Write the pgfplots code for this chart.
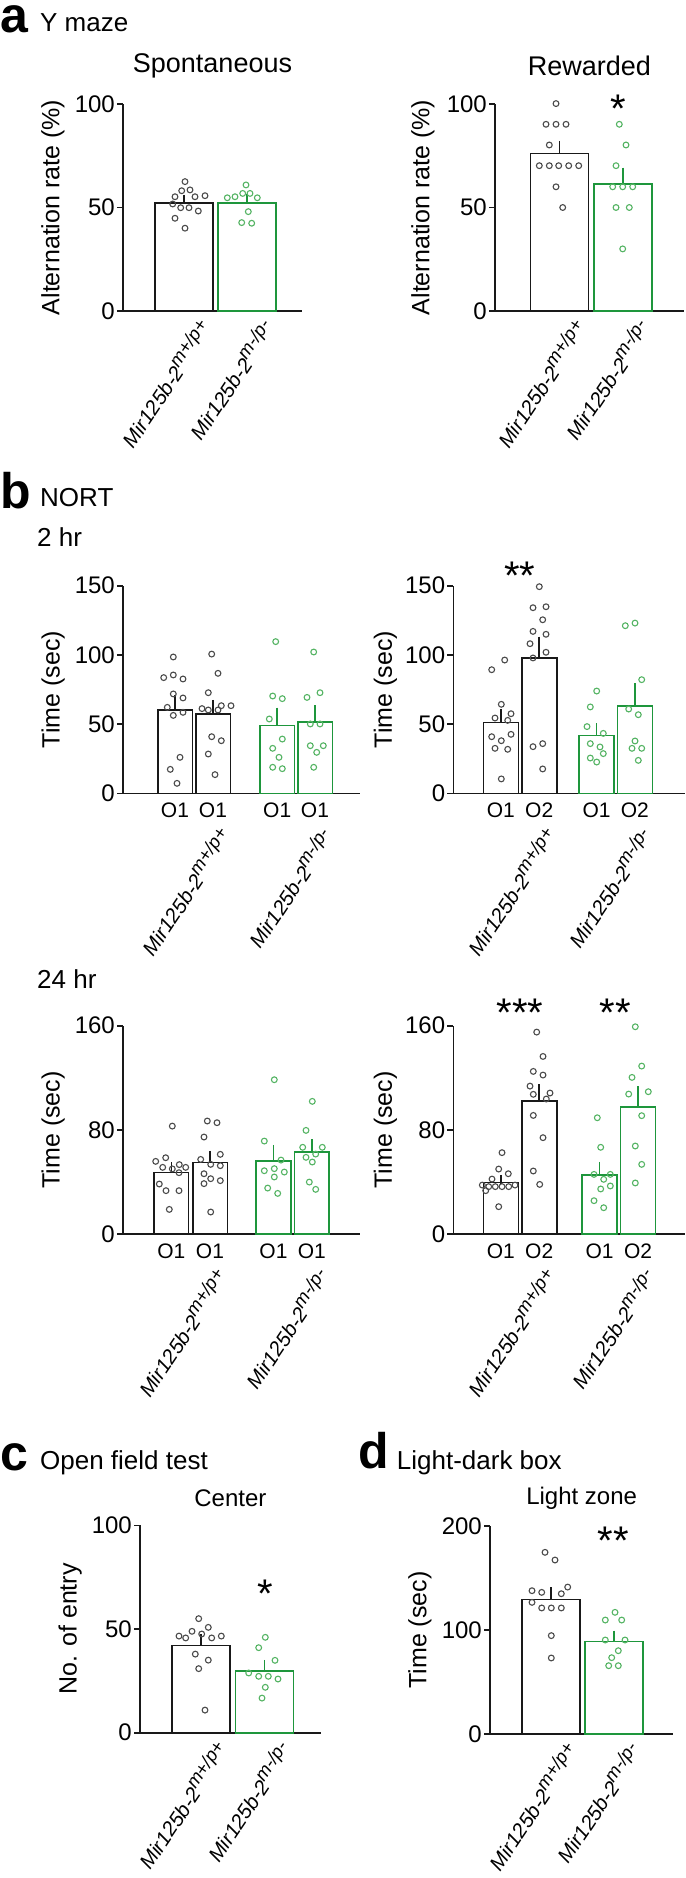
\documentclass[border=0pt]{standalone}
\usepackage{fontspec}
\setmainfont{Liberation Sans}
\usepackage{graphicx}
\usepackage{pgfplots}
\pgfplotsset{compat=1.18}

\definecolor{barblack}{RGB}{25,25,25}
\definecolor{dotgray}{RGB}{75,75,75}
\definecolor{bargreen}{RGB}{30,150,60}
\definecolor{dotgreen}{RGB}{85,180,100}

\newcommand{\fs}[1]{\fontsize{#1}{#1}\selectfont}
% rotated genotype labels
\newcommand{\wt}{\rotatebox{56}{\fs{20.5}\itshape Mir125b-2\raisebox{0.4em}{\fs{18.5}m+/p+}}}
\newcommand{\ko}{\rotatebox{56}{\fs{20.5}\itshape Mir125b-2\raisebox{0.4em}{\fs{18.5}m-/p-}}}

\pgfplotsset{
  panel/.style={
    scale only axis, clip=false, anchor=south west,
    axis x line*=bottom, axis y line*=left,
    axis line style={line width=1.6pt, draw=barblack},
    ymin=0, tick align=outside, major tick length=6pt,
    ytick style={line width=1.6pt, draw=barblack},
    xtick style={draw=none},
    /pgf/number format/assume math mode=true,
    yticklabel style={font=\fs{24}, inner sep=2pt},
    xticklabel style={font=\fs{21}},
    ylabel style={font=\fs{25}, anchor=center},
    title style={font=\fs{27}, at={(axis description cs:0.5,1)}, anchor=center},
  },
  genolabels/.style={xticklabel style={inner sep=0pt, anchor=north east, xshift=31pt, yshift=0pt}},
  genoextra/.style={extra x tick style={xticklabel style={inner sep=0pt, anchor=north east,
    xshift=41pt, yshift=-26pt}}},
  wtbar/.style={ybar, bar shift=0pt, bar width=#1, fill=white, draw=barblack, line width=1.6pt,
    error bars/.cd, y dir=plus, y explicit,
    error bar style={line width=1.6pt, draw=barblack},
    error mark options={line width=1.6pt, mark size=4.5pt, draw=barblack}},
  kobar/.style={ybar, bar shift=0pt, bar width=#1, fill=white, draw=bargreen, line width=1.6pt,
    error bars/.cd, y dir=plus, y explicit,
    error bar style={line width=1.6pt, draw=bargreen},
    error mark options={line width=1.6pt, mark size=4.5pt, draw=bargreen}},
  wtdot/.style={only marks, mark=o, mark size=2.9pt, mark options={draw=dotgray, line width=1.1pt}},
  kodot/.style={only marks, mark=o, mark size=2.9pt, mark options={draw=dotgreen, line width=1.1pt}},
}

\begin{document}
\begin{tikzpicture}
\path[use as bounding box] (0,0) rectangle (685pt,-1878pt);

% headers
\node[anchor=base west, inner sep=0, font=\fs{50}\bfseries] at (0pt,-33pt) {a};
\node[anchor=base west, inner sep=0, font=\fs{26}] at (40pt,-32pt) {Y maze};
\node[anchor=base west, inner sep=0, font=\fs{50}\bfseries] at (0pt,-508pt) {b};
\node[anchor=base west, inner sep=0, font=\fs{26}] at (40pt,-506pt) {NORT};
\node[anchor=base west, inner sep=0, font=\fs{26}] at (37pt,-546.7pt) {2 hr};
\node[anchor=base west, inner sep=0, font=\fs{26}] at (37pt,-988pt) {24 hr};
\node[anchor=base west, inner sep=0, font=\fs{50}\bfseries] at (0pt,-1470.7pt) {c};
\node[anchor=base west, inner sep=0, font=\fs{26}] at (40pt,-1469pt) {Open field test};
\node[anchor=base west, inner sep=0, font=\fs{50}\bfseries] at (358pt,-1468.3pt) {d};
\node[anchor=base west, inner sep=0, font=\fs{26}] at (396.7pt,-1469pt) {Light-dark box};

% ---- a: Spontaneous
\begin{axis}[panel, genolabels, at={(123pt,-311pt)}, width=179pt, height=207pt,
  xmin=123, xmax=302, ymax=100, ytick={0,50,100},
  xtick={184,247}, xticklabels={{\wt},{\ko}},
  ylabel={Alternation rate (\%)}, ylabel style={at={(axis description cs:-0.391,0.5)}},
  title={Spontaneous}, title style={yshift=32pt}]
\addplot[wtbar=58] coordinates {(184,52.3) +- (0,1.7)};
\addplot[kobar=58] coordinates {(247,52.3) +- (0,2.2)};
\addplot[wtdot] coordinates {(185,62.5) (181.7,58.1) (190,58.5) (175,55.2) (195,55.2) (205,55.7)
  (172.7,51.7) (180.7,49.9) (189,49.9) (198.3,48.3) (175,44.8) (185,40)};
\addplot[kodot] coordinates {(246,60.9) (227.3,54.7) (235,55.2) (242.7,56.8) (250,56.8)
  (257.3,54.7) (248.3,48) (241.7,42.7) (251.7,42.4)};
\end{axis}

% ---- a: Rewarded
\begin{axis}[panel, genolabels, at={(495pt,-311pt)}, width=189pt, height=207pt,
  xmin=495, xmax=684, ymax=100, ytick={0,50,100},
  xtick={559.5,623}, xticklabels={{\wt},{\ko}},
  ylabel={Alternation rate (\%)}, ylabel style={at={(axis description cs:-0.381,0.5)}},
  title={Rewarded}, title style={yshift=32pt}]
\addplot[wtbar=58] coordinates {(559.5,76) +- (0,4)};
\addplot[kobar=58] coordinates {(623,61.3) +- (0,5.8)};
\addplot[wtdot] coordinates {(556,100.2) (546,90.2) (556,90.2) (566,90.2) (549.3,80.2) (539.3,70.2)
  (549.3,70.2) (558.7,70.2) (568.7,70.2) (578.7,70.2) (556,60) (562.7,50)};
\addplot[kodot] coordinates {(619.3,90.2) (626,80.2) (616,70.2) (612.7,60) (622.7,60) (632.7,60)
  (616,50) (629.3,50) (622.7,30)};
\node[font=\fs{40}, anchor=base, inner sep=0] at ([yshift=-23pt]axis cs:618.3,102) {*};
\end{axis}

% ---- b: 2 hr, O1 O1
\begin{axis}[panel, genoextra, at={(123pt,-793.3pt)}, width=237pt, height=207.6pt,
  xmin=123, xmax=360, ymax=150, ytick={0,50,100,150},
  xtick={175,213,277.2,315}, xticklabels={O1,O1,O1,O1},
  extra x ticks={194,296}, extra x tick labels={{\wt},{\ko}},
  ylabel={Time (sec)}, ylabel style={at={(axis description cs:-0.295,0.5)}}]
\addplot[wtbar=34.6] coordinates {(175,60) +- (0,7.9) (213,57.3) +- (0,7)};
\addplot[kobar=34.6] coordinates {(277.2,48.9) +- (0,9.8) (315,51.5) +- (0,8.7)};
\addplot[wtdot] coordinates {(173.3,98.5) (163.7,83.6) (173.3,85.5) (183,82.6) (173.3,71.8) (183,68.9)
  (167.3,62.1) (183,58.5) (173.3,56.3) (180,26) (170.3,17.3) (177,7.2)};
\addplot[wtdot] coordinates {(211.7,100.6) (218,86.7) (208.3,72.7) (202,61.2) (208.3,60.2) (218,60.2)
  (221.3,63.3) (231,63.3) (211.7,40.9) (221.3,38) (208.3,28.4) (215,13.5)};
\addplot[kodot] coordinates {(275.7,109.6) (272.7,70.3) (282.3,68.4) (269.3,53.7) (282.3,39.2)
  (272.7,32.5) (279,26) (272.7,18.8) (282.3,17.8)};
\addplot[kodot] coordinates {(313.7,102.1) (307,69.3) (320,72.7) (310.3,50.1) (320,50.1)
  (310.3,34.4) (323.3,34.4) (316.7,29.6) (313.7,18.8)};
\end{axis}

% ---- b: 2 hr, O1 O2
\begin{axis}[panel, genoextra, at={(453.3pt,-793.3pt)}, width=231.7pt, height=207.6pt,
  xmin=453.3, xmax=685, ymax=150, ytick={0,50,100,150},
  xtick={500.8,539.2,596.5,634.8}, xticklabels={O1,O2,O1,O2},
  extra x ticks={520,615.7}, extra x tick labels={{\wt},{\ko}},
  ylabel={Time (sec)}, ylabel style={at={(axis description cs:-0.293,0.5)}}]
\addplot[wtbar=35] coordinates {(500.8,51.3) +- (0,6.5) (539.2,97.8) +- (0,12.2)};
\addplot[kobar=35] coordinates {(596.5,41.9) +- (0,5.3) (634.8,63.3) +- (0,12.8)};
\addplot[wtdot] coordinates {(504.7,96.3) (491.7,89.3) (501.3,64.3) (511,57.5) (495,54.4) (507.7,52.7)
  (491.7,40.9) (511,42.6) (501.3,38) (495,32.5) (507.7,31.8) (501.3,10.4)};
\addplot[wtdot] coordinates {(539.3,149.3) (533,134.1) (546,134.8) (542.7,125.4) (533,117) (546,114.9)
  (530,108.1) (546,101.9) (533,97.8) (533,33.7) (542.7,35.9) (542.7,17.6)};
\addplot[kodot] coordinates {(596.7,73.9) (590.3,62.4) (587,48.2) (603.3,43.3) (590.3,35.9)
  (600,33.5) (603.3,28.7) (590.3,25.5) (596.7,22.6)};
\addplot[kodot] coordinates {(625.3,121.1) (635,123) (641.7,82.1) (628.7,60.9) (638.3,56.8)
  (635,37.8) (632,32.5) (641.7,32.5) (638.3,23.8)};
\node[font=\fs{40}, anchor=base, inner sep=0] at ([yshift=-23pt]axis cs:520,163.7) {**};
\end{axis}

% ---- b: 24 hr, O1 O1
\begin{axis}[panel, genoextra, at={(123pt,-1234pt)}, width=237pt, height=208.3pt,
  xmin=123, xmax=360, ymax=160, ytick={0,80,160},
  xtick={171.3,210,273.5,311.8}, xticklabels={O1,O1,O1,O1},
  extra x ticks={190.7,292.7}, extra x tick labels={{\wt},{\ko}},
  ylabel={Time (sec)}, ylabel style={at={(axis description cs:-0.295,0.5)}}]
\addplot[wtbar=34.6] coordinates {(171.3,47.1) +- (0,4.6) (210,54.8) +- (0,5.6)};
\addplot[kobar=34.6] coordinates {(273.5,56.3) +- (0,8.7) (311.8,63) +- (0,6.4)};
\addplot[wtdot] coordinates {(172.3,82.9) (155.7,55.8) (165.7,58.6) (162.7,51.2) (179.3,53.3) (185.7,51.2)
  (172.3,50) (179,47.1) (159.3,38.4) (166,33.3) (179,33.3) (169.3,18.9)};
\addplot[wtdot] coordinates {(207.3,86.8) (217,85.5) (204,74.5) (220.3,61.2) (200.7,57.3) (210.7,53.5)
  (220.3,52.5) (204,46.3) (210.7,42.5) (220.3,41) (204,38.7) (210.7,16.9)};
\addplot[kodot] coordinates {(274.3,118.5) (264.3,71.4) (281,56.8) (264.3,48.6) (274.3,50.2)
  (284.3,47.6) (274.3,43.8) (267.7,35.3) (277.7,31.2)};
\addplot[kodot] coordinates {(312.3,101.9) (306,79.6) (302.7,66.6) (322.3,66.6) (315.7,61.4)
  (306,58.9) (312.3,55.3) (309.3,39.9) (315.7,34.3)};
\end{axis}

% ---- b: 24 hr, O1 O2
\begin{axis}[panel, genoextra, at={(453.3pt,-1234pt)}, width=231.7pt, height=208.3pt,
  xmin=453.3, xmax=685, ymax=160, ytick={0,80,160},
  xtick={500.8,539.2,599.5,638}, xticklabels={O1,O2,O1,O2},
  extra x ticks={520,618.8}, extra x tick labels={{\wt},{\ko}},
  ylabel={Time (sec)}, ylabel style={at={(axis description cs:-0.293,0.5)}}]
\addplot[wtbar=35] coordinates {(500.8,39.7) +- (0,2.3) (539.2,102.1) +- (0,9.3)};
\addplot[kobar=35] coordinates {(599.5,45.3) +- (0,6.7) (638,97.5) +- (0,12.6)};
\addplot[wtdot] coordinates {(502,62.5) (498.7,49.9) (508.3,46.3) (492,42.2) (482.3,37.6) (488.7,36.4)
  (495.3,36.4) (502,36.4) (508.7,36.4) (515,37.6) (485.7,33.3) (498.7,21)};
\addplot[wtdot] coordinates {(536.7,155.1) (543,136.4) (533.3,124.9) (543,122.1) (530,113.6) (533.3,107.3)
  (550,108.3) (546.3,103.7) (533.3,91.1) (543,74) (533.3,48.4) (539.7,38.1)};
\addplot[kodot] coordinates {(597.3,89.3) (600.7,66.6) (594,45.8) (610.3,45.8) (603.7,42)
  (610.3,36.9) (600.7,34.6) (594,25.6) (603.7,20.2)};
\addplot[kodot] coordinates {(635.3,159.2) (641.7,129) (632,120.3) (628.7,107.5) (648.3,109.3)
  (641.7,90.9) (635.3,67.6) (641.7,53.5) (635.3,39.2)};
\node[font=\fs{40}, anchor=base, inner sep=0] at ([yshift=-23pt]axis cs:520,177.2) {***};
\node[font=\fs{40}, anchor=base, inner sep=0] at ([yshift=-23pt]axis cs:615,177.2) {**};
\end{axis}

% ---- c: Open field, Center
\begin{axis}[panel, genolabels, at={(140pt,-1732.7pt)}, width=180.7pt, height=207.4pt,
  xmin=140, xmax=320.7, ymax=100, ytick={0,50,100},
  xtick={201,264.3}, xticklabels={{\wt},{\ko}},
  ylabel={No. of entry}, ylabel style={at={(axis description cs:-0.387,0.5)}},
  title={Center}, title style={yshift=21pt, font=\fs{24}}]
\addplot[wtbar=58] coordinates {(201,42) +- (0,3.3)};
\addplot[kobar=58] coordinates {(264.3,29.9) +- (0,3.1)};
\addplot[wtdot] coordinates {(198.7,55) (192,48.9) (208.3,50.8) (179,46.6) (185.7,45.7) (201.7,47.6)
  (211.7,45.7) (221.3,46.6) (195.3,37.9) (208.3,35) (198.7,30.9) (205,10.9)};
\addplot[kodot] coordinates {(265.3,46) (258.7,41) (275,34.9) (248.7,28.8) (258.7,27.2)
  (268.3,27.2) (278,25.9) (265.3,21.9) (262,16.7)};
\node[font=\fs{40}, anchor=base, inner sep=0] at ([yshift=-23pt]axis cs:265,71.7) {*};
\end{axis}

% ---- d: Light-dark box, Light zone
\begin{axis}[panel, genolabels, at={(490pt,-1734pt)}, width=183.3pt, height=208pt,
  xmin=490, xmax=673.3, ymax=200, ytick={0,100,200},
  xtick={551,614}, xticklabels={{\wt},{\ko}},
  ylabel={Time (sec)}, ylabel style={at={(axis description cs:-0.382,0.5)}},
  title={Light zone}, title style={yshift=22pt, font=\fs{24}}]
\addplot[wtbar=58] coordinates {(551,129.5) +- (0,7.4)};
\addplot[kobar=58] coordinates {(614,89.1) +- (0,6.1)};
\addplot[wtdot] coordinates {(545,174.7) (555,167.3) (567.7,141.3) (532,137.8) (541.7,136.2) (561.3,134.9)
  (532,126.6) (541.7,121.2) (551.3,121.2) (561.3,121.2) (551.3,94.6) (551.3,73.1)};
\addplot[kodot] coordinates {(615,117) (605.3,109.6) (621.7,109.6) (605.3,90.4) (625,90.4)
  (618.3,80.1) (611.7,73.4) (608.7,65.7) (618.3,65.7)};
\node[font=\fs{40}, anchor=base, inner sep=0] at ([yshift=-23pt]axis cs:613.3,194.6) {**};
\end{axis}
\end{tikzpicture}
\end{document}
